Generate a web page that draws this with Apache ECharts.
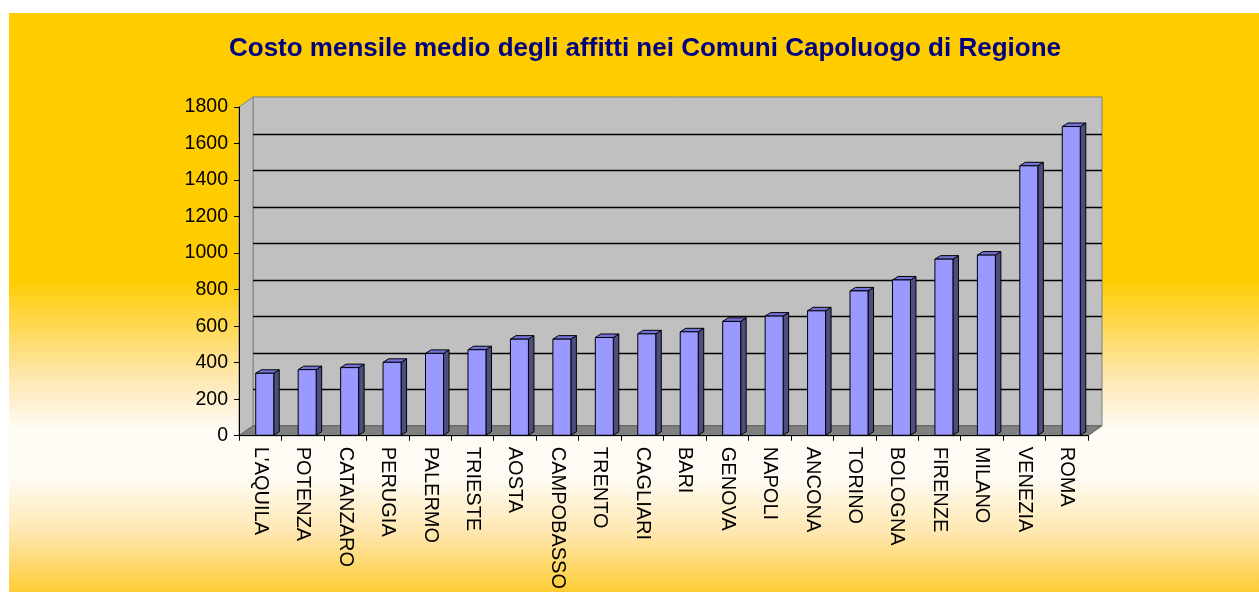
<!DOCTYPE html>
<html>
<head>
<meta charset="utf-8">
<script src="https://cdn.jsdelivr.net/npm/echarts@6/dist/echarts.min.js"></script>
<style>
  html, body { margin: 0; padding: 0; background: #fff; }
  #chart { width: 1259px; height: 592px; }
</style>
</head>
<body>
<div id="chart"></div>
<script>
// dati
const cities = ["L'AQUILA", 'POTENZA', 'CATANZARO', 'PERUGIA', 'PALERMO', 'TRIESTE', 'AOSTA',
  'CAMPOBASSO', 'TRENTO', 'CAGLIARI', 'BARI', 'GENOVA', 'NAPOLI', 'ANCONA', 'TORINO',
  'BOLOGNA', 'FIRENZE', 'MILANO', 'VENEZIA', 'ROMA'];
const costs = [342, 362, 373, 402, 451, 471, 529, 529, 538, 558, 569, 626, 655, 684, 793, 853, 967, 989, 1478, 1693];
const gridValues = [200, 400, 600, 800, 1000, 1200, 1400, 1600];

const chart = echarts.init(document.getElementById('chart'));

// profondità "3D" delle pareti e delle colonne
const WALL = [14, -10];
const DEPTH = [5.5, -3.5];
const BAR_W = 18;

function renderWalls(params, api) {
  const cs = params.coordSys;
  const x0 = cs.x, x1 = cs.x + cs.width, yt = cs.y, yb = cs.y + cs.height;
  const dx = WALL[0], dy = WALL[1];
  const children = [
    { type: 'rect', shape: { x: x0 + dx, y: yt + dy, width: cs.width, height: cs.height },
      style: { fill: '#c0c0c0', stroke: '#808080', lineWidth: 1 } },
    { type: 'polygon', shape: { points: [[x0, yb], [x0, yt], [x0 + dx, yt + dy], [x0 + dx, yb + dy]] },
      style: { fill: '#c0c0c0', stroke: '#808080', lineWidth: 1 } },
    { type: 'polygon', shape: { points: [[x0, yb], [x1, yb], [x1 + dx, yb + dy], [x0 + dx, yb + dy]] },
      style: { fill: '#808080', stroke: '#606060', lineWidth: 1 } }
  ];
  gridValues.forEach(function (v) {
    const y = Math.round(api.coord([0, v])[1] + dy) + 0.5;
    children.push({ type: 'line', shape: { x1: x0 + dx, y1: y, x2: x1 + dx, y2: y },
      style: { stroke: '#000', lineWidth: 1.3 } });
  });
  return { type: 'group', children: children };
}

function renderBar(params, api) {
  const top = api.coord([api.value(0), api.value(1)]);
  const base = api.coord([api.value(0), 0]);
  const left = top[0] - 4.5, right = left + BAR_W;
  const yTop = top[1], yBot = base[1] - 0.5;
  const dx = DEPTH[0], dy = DEPTH[1];
  return {
    type: 'group',
    children: [
      { type: 'polygon', shape: { points: [[right, yTop], [right + dx, yTop + dy], [right + dx, yBot + dy], [right, yBot]] },
        style: { fill: '#4d4d80', stroke: '#000', lineWidth: 1 } },
      { type: 'polygon', shape: { points: [[left, yTop], [left + dx, yTop + dy], [right + dx, yTop + dy], [right, yTop]] },
        style: { fill: '#7373d9', stroke: '#000', lineWidth: 1 } },
      { type: 'rect', shape: { x: left, y: yTop, width: BAR_W, height: yBot - yTop },
        style: { fill: '#9999ff', stroke: '#000', lineWidth: 1 } }
    ]
  };
}

const option = {
  backgroundColor: '#ffffff',
  animation: false,
  graphic: [{
    type: 'rect',
    z: -10,
    silent: true,
    shape: { x: 9, y: 13, width: 1250, height: 579 },
    style: {
      fill: new echarts.graphic.LinearGradient(0, 0, 0, 1, [
        { offset: 0, color: '#ffcc00' },
        { offset: 0.46, color: '#ffcc00' },
        { offset: 0.63, color: '#fee7b0' },
        { offset: 0.72, color: '#fffcf6' },
        { offset: 0.8, color: '#fffcf6' },
        { offset: 0.9, color: '#fee6ad' },
        { offset: 1, color: '#ffcc33' }
      ])
    }
  }],
  title: {
    text: 'Costo mensile medio degli affitti nei Comuni Capoluogo di Regione',
    left: 640,
    top: 31,
    textAlign: 'center',
    textStyle: { fontFamily: 'Arial, Liberation Sans', fontSize: 26, fontWeight: 'bold', color: '#000080' }
  },
  grid: { left: 239, top: 107, width: 849, height: 330 },
  xAxis: {
    type: 'category',
    data: cities,
    z: 5,
    axisLine: { lineStyle: { color: '#000', width: 1 } },
    axisTick: { show: true, length: 5, lineStyle: { color: '#000' } },
    axisLabel: { rotate: -90, margin: 11, fontFamily: 'Arial, Liberation Sans', fontSize: 20, color: '#000' },
    splitLine: { show: false }
  },
  yAxis: {
    type: 'value',
    min: 0,
    max: 1800,
    interval: 200,
    z: 5,
    axisLine: { show: true, lineStyle: { color: '#000', width: 1 } },
    axisTick: { show: true, length: 5, lineStyle: { color: '#000' } },
    axisLabel: {
      margin: 11, fontFamily: 'Arial, Liberation Sans', fontSize: 19.5, color: '#000',
      formatter: function (v) { return String(v); }
    },
    splitLine: { show: false }
  },
  series: [
    {
      type: 'custom',
      z: 1,
      silent: true,
      renderItem: renderWalls,
      data: [[0, 0]],
      encode: { x: 0, y: 1 }
    },
    {
      type: 'custom',
      z: 3,
      renderItem: renderBar,
      data: costs.map(function (v, i) { return [i, v]; }),
      encode: { x: 0, y: 1 }
    }
  ]
};

chart.setOption(option);
</script>
</body>
</html>
